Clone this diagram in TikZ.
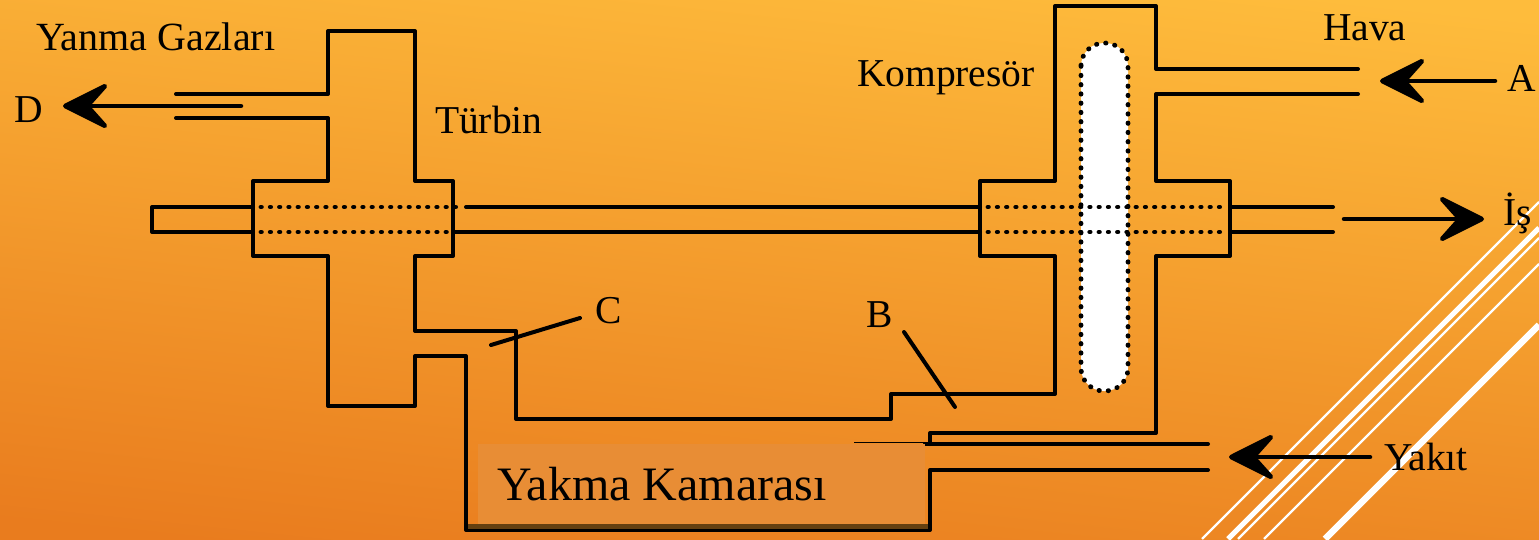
\documentclass[tikz,border=0pt]{standalone}
\usepackage{fontspec}
\setmainfont{Liberation Serif}
\usetikzlibrary{arrows.meta}
\definecolor{bgtop}{HTML}{FEBC3C}
\definecolor{bgbot}{HTML}{E97C1E}
\definecolor{boxfill}{HTML}{E88D35}
\definecolor{bandcol}{HTML}{654010}
\tikzset{
  wall/.style={draw=black,line width=4pt,line join=round,line cap=round},
  dotline/.style={draw=black,line width=4.8pt,line cap=round,dash pattern=on 0.4pt off 8.85pt},
  deco/.style={draw=white,line cap=butt},
  lbl/.style={anchor=base west,inner sep=0pt,outer sep=0pt,text=black,font=\fontsize{39.5}{39.5}\selectfont},
  flow/.style={draw=black,line width=4.5pt,line cap=round,-{Stealth[length=54pt,width=54pt,inset=24pt,round]}}
}
\begin{document}
\begin{tikzpicture}[x=1pt,y=-1pt]
\useasboundingbox (0,0) rectangle (1539,539);
\shade[top color=bgtop,bottom color=bgbot,shading angle=-6] (-40,-10) rectangle (1579,549);
% decorative white stripes
\draw[deco,line width=2.2pt] (1202,539) -- (1539,202);
\draw[deco,line width=5pt] (1228,539) -- (1539,228);
\draw[deco,line width=2.2pt] (1238,539) -- (1539,238);
\draw[deco,line width=2.2pt] (1264,539) -- (1539,264);
\draw[deco,line width=6.5pt] (1325,539) -- (1539,325);
% engine outline
\draw[wall] (176,94) -- (328,94) -- (328,31) -- (415,31) -- (415,181) -- (453,181) -- (453,256) -- (415,256) -- (415,331) -- (516,331) -- (516,419) -- (891,419) -- (891,394) -- (1055,394) -- (1055,256) -- (980,256) -- (980,181) -- (1055,181) -- (1055,6) -- (1156,6) -- (1156,69) -- (1358,69);
\draw[wall] (176,118) -- (328,118) -- (328,181) -- (253,181) -- (253,256) -- (328,256) -- (328,406) -- (415,406) -- (415,356) -- (466,356) -- (466,530) -- (930,530) -- (930,470) -- (1208,470);
\draw[wall] (1358,94) -- (1156,94) -- (1156,181) -- (1230,181) -- (1230,256) -- (1156,256) -- (1156,433) -- (930,433) -- (930,444);
\draw[wall] (925,444) -- (1208,444);
\draw[black,line width=1.5pt] (854,442.5) -- (930,442.5);
% shaft
\draw[wall] (253,207) -- (152,207) -- (152,232) -- (253,232);
\draw[wall] (466,207) -- (980,207);
\draw[wall] (453,232) -- (980,232);
\draw[wall] (1230,207) -- (1333,207);
\draw[wall] (1230,232) -- (1333,232);
% compressor rotor
\draw[dotline,fill=white,rounded corners=23pt] (1081,43) rectangle (1128,391);
% dotted bores
\draw[dotline] (261,207) -- (458,207);
\draw[dotline] (261,232) -- (450,232);
\draw[dotline] (988,207) -- (1224,207);
\draw[dotline] (988,232) -- (1224,232);
% ticks
\coordinate (Ca) at (491,345); \coordinate (Cb) at (580,318);
\coordinate (Ba) at (904,332); \coordinate (Bb) at (955,407);
\draw[wall] (Ca) -- (Cb);
\draw[wall] (Ba) -- (Bb);
% combustion chamber label
\fill[bandcol] (468,524) rectangle (928,529);
\fill[boxfill] (477.5,443.5) rectangle (925,524);
\node[lbl,font=\fontsize{48}{48}\selectfont] (kamara) at (497,500) {Yakma Kamarası};
% flow arrows
\coordinate (Dtail) at (241,106); \coordinate (Dtip) at (63,106);
\coordinate (Atail) at (1495,81); \coordinate (Atip) at (1380,81);
\coordinate (Wtail) at (1344,219); \coordinate (Wtip) at (1484,219);
\coordinate (Ytail) at (1370,457); \coordinate (Ytip) at (1229,457);
\draw[flow] (Dtail) -- (Dtip);
\draw[flow] (Atail) -- (Atip);
\draw[flow] (Wtail) -- (Wtip);
\draw[flow] (Ytail) -- (Ytip);
% labels
\node[lbl,font=\fontsize{40}{40}\selectfont] (yanma) at (36,50) {Yanma Gazları};
\node[lbl] (d) at (14,122) {D};
\node[lbl] (turbin) at (435,133) {Türbin};
\node[lbl] (komp) at (857,86) {Kompresör};
\node[lbl] (hava) at (1323,40) {Hava};
\node[lbl] (a) at (1507,91) {A};
\node[lbl] (is) at (1503,225) {İş};
\node[lbl] (yakit) at (1384,470) {Yakıt};
\node[lbl] (c) at (595,323) {C};
\node[lbl] (b) at (866,327) {B};
\end{tikzpicture}
\end{document}
